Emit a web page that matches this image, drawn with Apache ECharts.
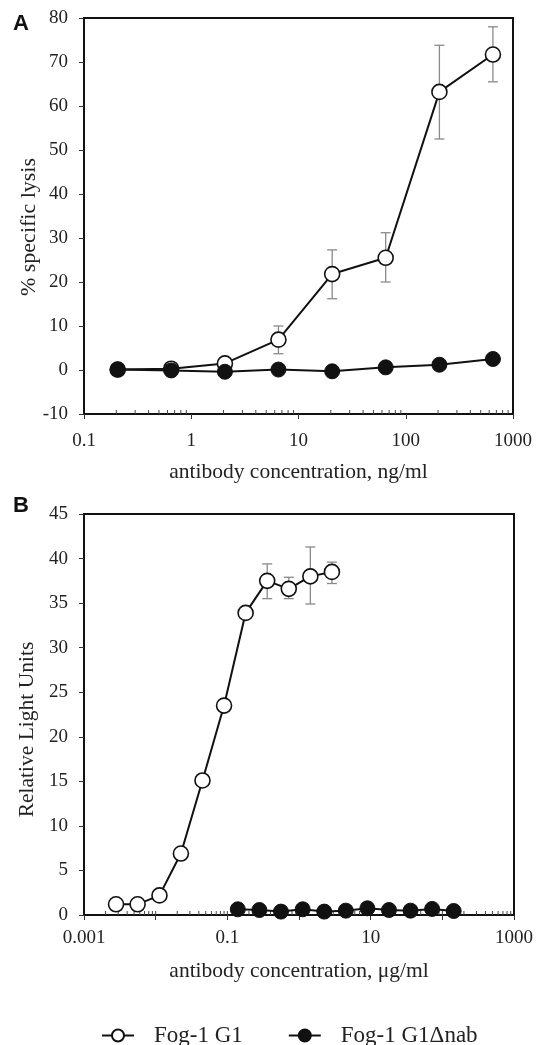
<!DOCTYPE html>
<html>
<head>
<meta charset="utf-8">
<script src="https://cdn.jsdelivr.net/npm/echarts@6/dist/echarts.min.js"></script>
<style>
    html, body {margin: 0; padding: 0; background: #fff;}
    #chart {width: 543px; height: 1045px;}
</style>
</head>
<body>
<div id="chart"></div>
<script>
// panel A: lysis vs antibody, ng/ml
var concA = [0.206, 0.65, 2.06, 6.5, 20.6, 65, 206, 650];
var g1A = [0.1, 0.3, 1.5, 6.9, 21.8, 25.5, 63.2, 71.7];
var g1LowA = [null, null, null, 3.7, 16.2, 20.0, 52.5, 65.5];
var g1HighA = [null, null, null, 10.0, 27.3, 31.2, 73.8, 78.0];
var nabA = [0.1, -0.1, -0.4, 0.1, -0.3, 0.6, 1.2, 2.5];
var xLabelsA = {'-1': '0.1', '0': '1', '1': '10', '2': '100', '3': '1000'};

// panel B: relative light units vs antibody, ug/ml
var concB1 = [0.0028, 0.0056, 0.0113, 0.0225, 0.045, 0.09, 0.18, 0.36, 0.72, 1.44, 2.88];
var g1B = [1.2, 1.2, 2.2, 6.9, 15.1, 23.5, 33.9, 37.5, 36.6, 38.0, 38.5];
var g1LowB = [null, null, null, null, null, null, null, 35.5, 35.5, 34.9, 37.2];
var g1HighB = [null, null, null, null, null, null, null, 39.4, 37.9, 41.3, 39.6];
var concB2 = [0.14, 0.28, 0.56, 1.125, 2.25, 4.5, 9, 18, 36, 72, 144];
var nabB = [0.64, 0.56, 0.38, 0.64, 0.38, 0.49, 0.75, 0.56, 0.49, 0.68, 0.45];
var xLabelsB = {'-3': '0.001', '-1': '0.1', '1': '10', '3': '1000'};

var names = ['Fog-1 G1', 'Fog-1 G1\u0394nab'];
var serif = 'Liberation Serif';

// minor log ticks (2..9 of each decade)
function minorTicks(lo, hi, withDecades) {
    var out = [];
    for (var e = lo; e < hi; e++) {
        for (var m = withDecades ? 1 : 2; m <= 9; m++) {
            if (m === 1 && e === lo) continue;
            out.push([m * Math.pow(10, e)]);
        }
    }
    return out;
}

function pairs(xs, ys) {
    return xs.map(function (x, i) { return [x, ys[i]]; });
}
function errData(xs, lo, hi) {
    var out = [];
    xs.forEach(function (x, i) {
        if (lo[i] != null) out.push([x, lo[i], hi[i]]);
    });
    return out;
}

var errRender = function (params, api) {
    var top = api.coord([api.value(0), api.value(2)]);
    var bot = api.coord([api.value(0), api.value(1)]);
    var w = 5;
    var st = {stroke: '#8a8a8a', lineWidth: 1.3};
    return {
        type: 'group',
        children: [
            {type: 'line', shape: {x1: top[0], y1: top[1], x2: bot[0], y2: bot[1]}, style: st},
            {type: 'line', shape: {x1: top[0] - w, y1: top[1], x2: top[0] + w, y2: top[1]}, style: st},
            {type: 'line', shape: {x1: bot[0] - w, y1: bot[1], x2: bot[0] + w, y2: bot[1]}, style: st}
        ]
    };
};
function tickRender(yBase) {
    return function (params, api) {
        var p = api.coord([api.value(0), yBase]);
        return {
            type: 'line',
            shape: {x1: p[0], y1: p[1], x2: p[0], y2: p[1] - 4},
            style: {stroke: '#444', lineWidth: 1}
        };
    };
}

function logLabel(map) {
    return function (v) {
        var e = Math.round(Math.log(v) / Math.LN10);
        return map[String(e)] || '';
    };
}

var axisCommon = {
    axisLine: {show: true, onZero: false, lineStyle: {color: '#111', width: 2}},
    axisTick: {show: true, inside: false, length: 5, lineStyle: {color: '#333', width: 1}},
    splitLine: {show: false},
    nameLocation: 'middle',
    nameMoveOverlap: false,
    nameTextStyle: {fontFamily: serif, fontSize: 21.5, color: '#222'}
};
function merge(a, b) {
    var o = {};
    for (var k in a) o[k] = a[k];
    for (var k2 in b) o[k2] = b[k2];
    return o;
}
var tickFont = {fontSize: 19, color: '#222', fontFamily: serif};

var openStyle = {color: '#fff', borderColor: '#111', borderWidth: 1.6};
var fillStyle = {color: '#111', borderColor: '#111', borderWidth: 1};
var lineSt = {color: '#111', width: 2};

var chart = echarts.init(document.getElementById('chart'), null, {renderer: 'canvas'});
chart.setOption({
    backgroundColor: '#fff',
    animation: false,
    textStyle: {fontFamily: serif},
    grid: [
        {left: 84, top: 18, right: 30, height: 396, show: true, borderColor: '#111', borderWidth: 2, backgroundColor: 'transparent'},
        {left: 84, top: 514, right: 29, height: 401, show: true, borderColor: '#111', borderWidth: 2, backgroundColor: 'transparent'}
    ],
    graphic: [
        {type: 'text', left: 13, top: 13, style: {text: 'A', font: 'bold 22px "Liberation Sans"', fill: '#111'}},
        {type: 'text', left: 13, top: 495, style: {text: 'B', font: 'bold 22px "Liberation Sans"', fill: '#111'}}
    ],
    legend: {
        left: 96, top: 1019, itemGap: 45, itemWidth: 32, itemHeight: 15,
        data: names,
        textStyle: {fontFamily: serif, fontSize: 23, color: '#222', padding: [0, 0, 0, 15]}
    },
    xAxis: [
        merge(axisCommon, {
            type: 'log', gridIndex: 0, min: 0.1, max: 1000, logBase: 10,
            name: 'antibody concentration, ng/ml', nameGap: 47,
            axisLabel: merge(tickFont, {margin: 18, formatter: logLabel(xLabelsA), showMaxLabel: true})
        }),
        merge(axisCommon, {
            type: 'log', gridIndex: 1, min: 0.001, max: 1000, logBase: 10,
            name: 'antibody concentration, \u03bcg/ml', nameGap: 45,
            axisLabel: merge(tickFont, {margin: 14, formatter: logLabel(xLabelsB), showMaxLabel: true})
        })
    ],
    yAxis: [
        merge(axisCommon, {
            type: 'value', gridIndex: 0, min: -10, max: 80, interval: 10,
            name: '% specific lysis', nameGap: 44,
            nameTextStyle: {fontFamily: serif, fontSize: 22, color: '#222', padding: [0, 22, 0, 0]},
            axisLabel: merge(tickFont, {margin: 16})
        }),
        merge(axisCommon, {
            type: 'value', gridIndex: 1, min: 0, max: 45, interval: 5,
            name: 'Relative Light Units', nameGap: 46,
            nameTextStyle: {fontFamily: serif, fontSize: 21.5, color: '#222', padding: [0, 30, 0, 0]},
            axisLabel: merge(tickFont, {margin: 16})
        })
    ],
    series: [
        {type: 'custom', name: 'minorA', xAxisIndex: 0, yAxisIndex: 0, renderItem: tickRender(-10), data: minorTicks(-1, 3, false), silent: true, z: 1},
        {type: 'custom', name: 'minorB', xAxisIndex: 1, yAxisIndex: 1, renderItem: tickRender(0), data: minorTicks(-3, 3, true), silent: true, z: 1},
        {type: 'custom', name: 'errA', xAxisIndex: 0, yAxisIndex: 0, renderItem: errRender, data: errData(concA, g1LowA, g1HighA), z: 2},
        {type: 'custom', name: 'errB', xAxisIndex: 1, yAxisIndex: 1, renderItem: errRender, data: errData(concB1, g1LowB, g1HighB), z: 2},
        {
            type: 'line', name: names[0], xAxisIndex: 0, yAxisIndex: 0, data: pairs(concA, g1A),
            symbol: 'circle', symbolSize: 15, itemStyle: openStyle, lineStyle: lineSt, z: 3
        },
        {
            type: 'line', name: names[1], xAxisIndex: 0, yAxisIndex: 0, data: pairs(concA, nabA),
            symbol: 'circle', symbolSize: 15, itemStyle: fillStyle, lineStyle: lineSt, z: 4
        },
        {
            type: 'line', name: names[0], xAxisIndex: 1, yAxisIndex: 1, data: pairs(concB1, g1B),
            symbol: 'circle', symbolSize: 15, itemStyle: openStyle, lineStyle: lineSt, z: 3
        },
        {
            type: 'line', name: names[1], xAxisIndex: 1, yAxisIndex: 1, data: pairs(concB2, nabB),
            symbol: 'circle', symbolSize: 15, itemStyle: fillStyle, lineStyle: lineSt, z: 4
        }
    ]
});
</script>
</body>
</html>
